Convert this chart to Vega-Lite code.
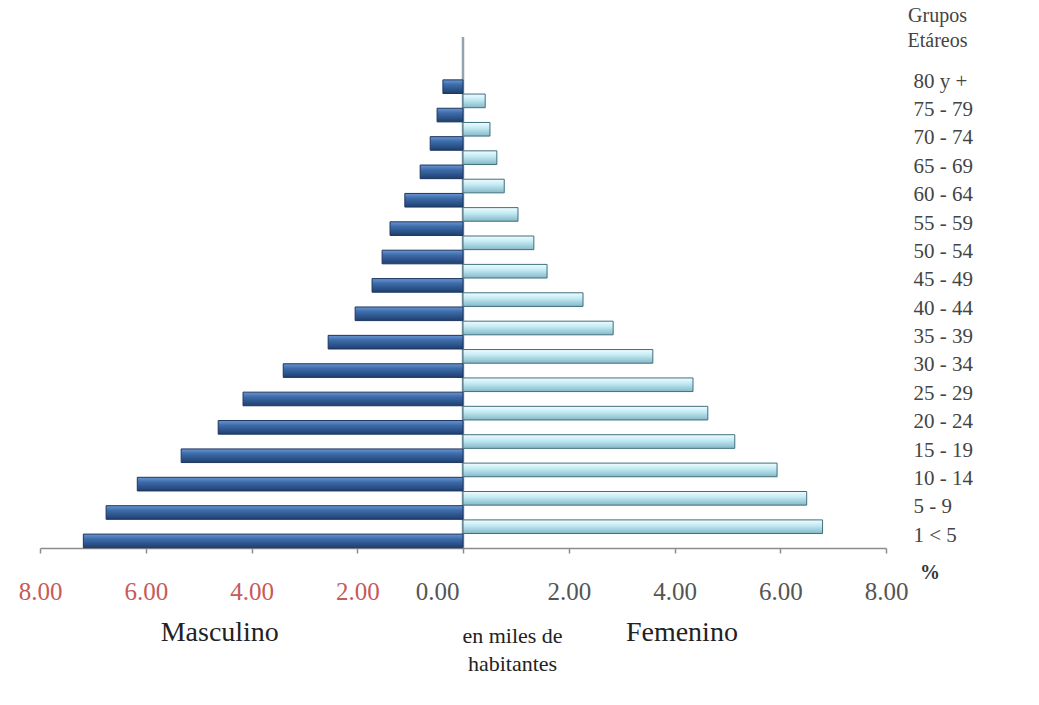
{
  "$schema": "https://vega.github.io/schema/vega-lite/v6.json",
  "width": 846,
  "height": 511,
  "autosize": "none",
  "padding": {"left": 40, "top": 37, "right": 153, "bottom": 157},
  "background": "white",
  "config": {
    "view": {"stroke": null},
    "font": "Liberation Serif",
    "axis": {"titleFont": "Liberation Serif", "labelFont": "Liberation Serif"},
    "text": {"font": "Liberation Serif"}
  },
  "data": {
    "values": [
      {"grupo": "80 y +", "sexo": "Masculino", "pct": 0.38},
      {"grupo": "75 - 79", "sexo": "Masculino", "pct": 0.49},
      {"grupo": "70 - 74", "sexo": "Masculino", "pct": 0.62},
      {"grupo": "65 - 69", "sexo": "Masculino", "pct": 0.81},
      {"grupo": "60 - 64", "sexo": "Masculino", "pct": 1.10},
      {"grupo": "55 - 59", "sexo": "Masculino", "pct": 1.38},
      {"grupo": "50 - 54", "sexo": "Masculino", "pct": 1.53},
      {"grupo": "45 - 49", "sexo": "Masculino", "pct": 1.72},
      {"grupo": "40 - 44", "sexo": "Masculino", "pct": 2.04},
      {"grupo": "35 - 39", "sexo": "Masculino", "pct": 2.55},
      {"grupo": "30 - 34", "sexo": "Masculino", "pct": 3.40},
      {"grupo": "25 - 29", "sexo": "Masculino", "pct": 4.16},
      {"grupo": "20 - 24", "sexo": "Masculino", "pct": 4.63},
      {"grupo": "15 - 19", "sexo": "Masculino", "pct": 5.33},
      {"grupo": "10 - 14", "sexo": "Masculino", "pct": 6.16},
      {"grupo": "5 - 9", "sexo": "Masculino", "pct": 6.75},
      {"grupo": "1 < 5", "sexo": "Masculino", "pct": 7.18},
      {"grupo": "75 - 79", "sexo": "Femenino", "pct": 0.42},
      {"grupo": "70 - 74", "sexo": "Femenino", "pct": 0.51},
      {"grupo": "65 - 69", "sexo": "Femenino", "pct": 0.64},
      {"grupo": "60 - 64", "sexo": "Femenino", "pct": 0.78},
      {"grupo": "55 - 59", "sexo": "Femenino", "pct": 1.04},
      {"grupo": "50 - 54", "sexo": "Femenino", "pct": 1.34},
      {"grupo": "45 - 49", "sexo": "Femenino", "pct": 1.59},
      {"grupo": "40 - 44", "sexo": "Femenino", "pct": 2.27},
      {"grupo": "35 - 39", "sexo": "Femenino", "pct": 2.84},
      {"grupo": "30 - 34", "sexo": "Femenino", "pct": 3.59},
      {"grupo": "25 - 29", "sexo": "Femenino", "pct": 4.35},
      {"grupo": "20 - 24", "sexo": "Femenino", "pct": 4.63},
      {"grupo": "15 - 19", "sexo": "Femenino", "pct": 5.14},
      {"grupo": "10 - 14", "sexo": "Femenino", "pct": 5.94},
      {"grupo": "5 - 9", "sexo": "Femenino", "pct": 6.50},
      {"grupo": "1 < 5", "sexo": "Femenino", "pct": 6.80}
    ]
  },
  "transform": [
    {"calculate": "datum.sexo == 'Masculino' ? -datum.pct : datum.pct", "as": "valor"}
  ],
  "layer": [
    {
      "data": {"values": [{}]},
      "mark": {"type": "rule", "color": "#95a3b0", "strokeWidth": 2.5},
      "encoding": {
        "x": {"datum": 0, "type": "quantitative"}
      }
    },
    {
      "transform": [{"filter": "datum.sexo == 'Masculino'"}],
      "mark": {
        "type": "bar",
        "fill": {"gradient": "linear", "x1": 0, "y1": 0, "x2": 0, "y2": 1,
          "stops": [{"offset": 0, "color": "#6a97d2"}, {"offset": 0.35, "color": "#3d6cab"}, {"offset": 1, "color": "#1f3f6e"}]},
        "stroke": "#1c355e",
        "strokeWidth": 1
      },
      "encoding": {
        "x": {
          "field": "valor", "type": "quantitative",
          "scale": {"domain": [-8, 8], "nice": false, "zero": true},
          "axis": {
            "values": [-8, -6, -4, -2, 0, 2, 4, 6, 8],
            "labelExpr": "format(abs(datum.value), '.2f')",
            "grid": false,
            "domainColor": "#8c8c8c", "domainWidth": 1.5,
            "tickColor": "#8c8c8c", "tickSize": 5, "tickWidth": 1.5,
            "labelFont": "Liberation Serif", "labelFontSize": 25,
            "labelFlush": false,
            "labelColor": {"condition": {"test": "datum.value < 0", "value": "#c75a5a"}, "value": "#555555"},
            "labelOffset": {"condition": {"test": "datum.value == 0", "value": -26}, "value": 0},
            "labelPadding": 26,
            "title": ["en miles de", "habitantes"],
            "titleFont": "Liberation Serif", "titleFontSize": 22, "titleFontWeight": "normal",
            "titleColor": "#222222", "titleX": 472, "titleY": 77, "titleBaseline": "top",
            "titleAlign": "center", "titleLineHeight": 28
          }
        },
        "y": {
          "field": "grupo", "type": "nominal",
          "scale": {"domain": ["top", "80 y +", "75 - 79", "70 - 74", "65 - 69", "60 - 64", "55 - 59", "50 - 54", "45 - 49", "40 - 44", "35 - 39", "30 - 34", "25 - 29", "20 - 24", "15 - 19", "10 - 14", "5 - 9", "1 < 5"], "paddingInner": 0, "paddingOuter": 0},
          "axis": {
            "orient": "right", "domain": false, "ticks": false,
            "labelPadding": 27, "labelAlign": "left", "labelFontSize": 21,
            "labelFont": "Liberation Serif", "labelColor": "#444444", "labelOffset": 2,
            "labelExpr": "datum.value == 'top' ? '' : datum.value",
            "title": ["Grupos", "Etáreos"], "titleAngle": 0, "titleX": 51, "titleY": -22,
            "titleBaseline": "middle", "titleAlign": "center", "titleFontSize": 20,
            "titleFontWeight": "normal", "titleColor": "#444444", "titleLineHeight": 25,
            "titleFont": "Liberation Serif"
          }
        },
        "yOffset": {"field": "sexo", "type": "nominal", "scale": {"domain": ["Femenino", "Masculino"], "paddingInner": 0.04, "paddingOuter": 0.02}}
      }
    },
    {
      "transform": [{"filter": "datum.sexo == 'Femenino'"}],
      "mark": {
        "type": "bar",
        "fill": {"gradient": "linear", "x1": 0, "y1": 0, "x2": 0, "y2": 1,
          "stops": [{"offset": 0, "color": "#f2fcff"}, {"offset": 0.4, "color": "#c3ebf4"}, {"offset": 1, "color": "#86b8c7"}]},
        "stroke": "#3f6f7f",
        "strokeWidth": 1
      },
      "encoding": {
        "x": {"field": "valor", "type": "quantitative"},
        "y": {"field": "grupo", "type": "nominal"},
        "yOffset": {"field": "sexo", "type": "nominal"}
      }
    },
    {
      "data": {"values": [{}]},
      "mark": {"type": "text", "font": "Liberation Serif", "fontSize": 28, "color": "#222222", "baseline": "middle", "align": "center"},
      "encoding": {
        "x": {"datum": -4.6, "type": "quantitative"},
        "y": {"value": 596},
        "text": {"value": "Masculino"}
      }
    },
    {
      "data": {"values": [{}]},
      "mark": {"type": "text", "font": "Liberation Serif", "fontSize": 28, "color": "#222222", "baseline": "middle", "align": "center"},
      "encoding": {
        "x": {"datum": 4.14, "type": "quantitative"},
        "y": {"value": 596},
        "text": {"value": "Femenino"}
      }
    },
    {
      "data": {"values": [{}]},
      "mark": {"type": "text", "font": "Liberation Serif", "fontSize": 20, "fontWeight": "bold", "color": "#333333", "baseline": "middle", "align": "center"},
      "encoding": {
        "x": {"datum": 8.83, "type": "quantitative"},
        "y": {"value": 536},
        "text": {"value": "%"}
      }
    }
  ]
}
